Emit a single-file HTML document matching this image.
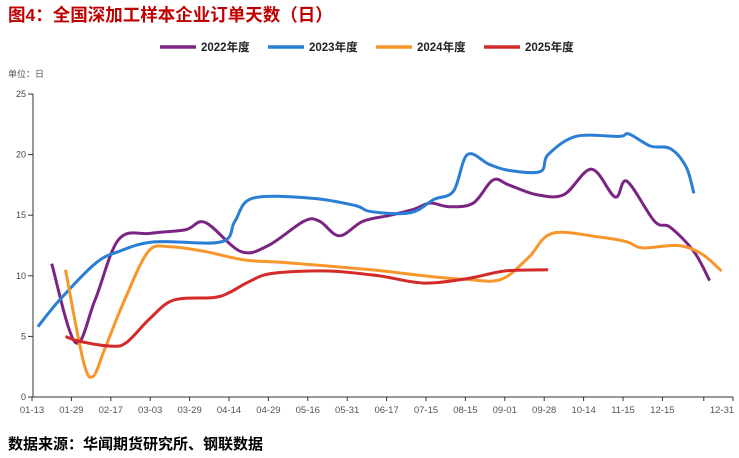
<!DOCTYPE html>
<html><head><meta charset="utf-8"><style>
body{margin:0;background:#fff;}
svg{display:block;font-family:"Liberation Sans","Noto Sans CJK SC",sans-serif;}
</style></head><body>
<svg id="c" width="739" height="458">
<text x="8" y="21" font-size="17.5" font-weight="bold" fill="#c00000">图4：全国深加工样本企业订单天数（日）</text>
<text x="8" y="77" font-size="9" fill="#555">单位：日</text>
<text x="8" y="449" font-size="15" font-weight="bold" fill="#000">数据来源：华闻期货研究所、钢联数据</text>
<g id="legend"></g><g id="axes"></g><g id="series"></g>
</svg>
<script>
const tickLabels=["01-13","01-29","02-17","03-03","03-29","04-14","04-29","05-16","05-31","06-17","07-15","08-15","09-01","09-28","10-14","11-15","12-15","12-31"];
const tickPos=[0,1,2,3,4,5,6,7,8,9,10,11,12,13,14,15,16,17.05];
const yTicks=[0,5,10,15,20,25];
const seriesNames=["2022年度","2023年度","2024年度","2025年度"];
const seriesColors=["#7b2583","#2a7fd4","#f7962a","#d42a2a"];
const x2022=[0.5,1.1,1.6,2.2,3.0,3.9,4.4,5.3,6.0,6.9,7.3,7.8,8.4,9.1,9.7,10.1,10.6,11.2,11.7,12.1,12.8,13.5,14.2,14.8,15.1,15.8,16.2,16.8,17.2];
const y2022=[11,4.5,8,13,13.5,13.8,14.4,12,12.5,14.5,14.5,13.3,14.5,15,15.5,16,15.7,16,17.9,17.5,16.7,16.7,18.8,16.5,17.8,14.5,14,12,9.6];
const x2023=[0.15,0.7,1.6,2.2,3.1,4.8,5.15,5.6,7.1,8.2,8.6,9.6,10.2,10.7,11.05,11.6,12.1,12.9,13.1,13.8,14.9,15.15,15.7,16.2,16.6,16.8];
const y2023=[5.8,8,11,12,12.8,12.8,14.5,16.4,16.4,15.8,15.3,15.2,16.3,17,20,19.2,18.7,18.6,20,21.5,21.5,21.7,20.7,20.5,19,16.8];
const x2024=[0.85,1.3,1.55,1.85,2.35,2.95,3.5,4.4,5.4,6.4,8.6,9.95,11.0,11.9,12.6,13.2,14.4,15.1,15.5,16.4,17.0,17.5];
const y2024=[10.5,3,1.7,4,8,12,12.4,12,11.3,11.1,10.5,10,9.7,9.7,11.5,13.5,13.2,12.8,12.3,12.5,11.8,10.4];
const x2025=[0.85,1.2,2.0,2.4,3.0,3.6,4.6,5.0,5.5,6.1,7.5,8.8,9.95,11.1,12.0,13.1];
const y2025=[5,4.6,4.2,4.5,6.5,8,8.2,8.6,9.5,10.2,10.4,10,9.4,9.8,10.4,10.5];
const X0=32,DX=39.4,Y0=397,YH=303,YMAX=25,XEND=733;
const xs=t=>X0+t*DX, ys=v=>Y0-v/YMAX*YH;
const NS="http://www.w3.org/2000/svg";
function mk(tag,attrs,parent){const e=document.createElementNS(NS,tag);for(const k in attrs)e.setAttribute(k,attrs[k]);parent.appendChild(e);return e;}
const axes=document.getElementById('axes');
let yl=mk('line',{x1:X0+1,y1:Y0,x2:X0+1,y2:ys(25),stroke:'#333'},axes);


let xl=mk('line',{x1:X0,y1:Y0,x2:XEND,y2:Y0,stroke:'#333'},axes);


yTicks.forEach(v=>{
  mk('line',{x1:X0-4,y1:ys(v),x2:X0+1,y2:ys(v),stroke:'#333'},axes);
  const t=mk('text',{x:X0-6,y:ys(v)+3,'font-size':9,fill:'#444','text-anchor':'end'},axes);
  t.textContent=v;
  
  
});
tickLabels.forEach((l,i)=>{
  const x=xs(tickPos[i]);
  mk('line',{x1:x,y1:Y0,x2:x,y2:Y0+4,stroke:'#333'},axes);
  const lx=i===tickLabels.length-1?722:x;
  const t=mk('text',{x:lx,y:Y0+16,'font-size':9.5,fill:'#555','text-anchor':'middle'},axes);
  t.textContent=l;
  
  
});
mk('line',{x1:XEND,y1:Y0,x2:XEND,y2:Y0+4,stroke:'#333'},axes);
function path(xa,ya){
  const p=xa.map((t,i)=>[xs(t),ys(ya[i])]);
  let d=`M${p[0][0]},${p[0][1]}`;
  for(let i=0;i<p.length-1;i++){
    const p0=p[i-1]||p[i],p1=p[i],p2=p[i+1],p3=p[i+2]||p2;
    const c1=[p1[0]+(p2[0]-p0[0])/6,p1[1]+(p2[1]-p0[1])/6];
    const c2=[p2[0]-(p3[0]-p1[0])/6,p2[1]-(p3[1]-p1[1])/6];
    d+=`C${c1[0]},${c1[1]} ${c2[0]},${c2[1]} ${p2[0]},${p2[1]}`;
  }
  return d;
}
const sg=document.getElementById('series');
const data=[[x2022,y2022],[x2023,y2023],[x2024,y2024],[x2025,y2025]];
data.forEach((s,i)=>{
  const e=mk('path',{d:path(s[0],s[1]),fill:'none',stroke:seriesColors[i],'stroke-width':3,'stroke-linejoin':'round'},sg);
  
  
});
const lg=document.getElementById('legend');
const lx=[160,268,376,484];
seriesNames.forEach((n,i)=>{
  const g=mk('g',{},lg);
  
  
  mk('line',{x1:lx[i],y1:47,x2:lx[i]+36,y2:47,stroke:seriesColors[i],'stroke-width':3.5},g);
  const t=mk('text',{x:lx[i]+41,y:51,'font-size':11.5,'font-weight':'bold',fill:'#222'},g);
  t.textContent=n;
});
</script>
</body></html>
